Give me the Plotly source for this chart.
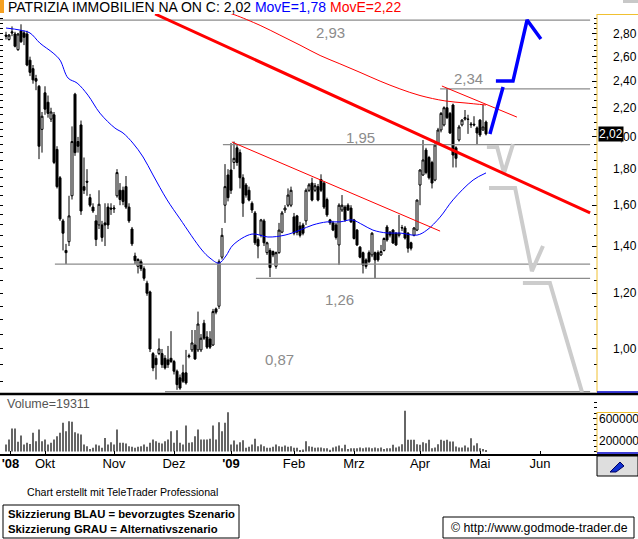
import math
import pandas as pd
import plotly.graph_objects as go

# ---------------- data ----------------
holidays = ["2008-12-24", "2008-12-25", "2008-12-26", "2008-12-31", "2009-01-01",
            "2009-04-10", "2009-04-13", "2009-05-01"]
trading_days = pd.bdate_range("2008-09-12", "2009-06-30", freq="C", holidays=holidays)

opens = [2.79, 2.75, 2.82, 2.80, 2.66, 2.83, 2.81, 2.80, 2.57, 2.50,
         2.42, 2.36, 2.05, 2.31, 2.24, 2.12, 2.15, 1.92, 1.75, 1.52,
         1.38, 1.42, 1.65, 2.30, 1.97, 2.08, 1.70, 1.73, 1.64, 1.59,
         1.52, 1.50, 1.50, 1.51, 1.59, 1.585, 1.58, 1.65, 1.68, 1.68,
         1.70, 1.59, 1.48, 1.355, 1.31, 1.33, 1.30, 1.24, 1.205, 0.985,
         0.97, 0.985, 0.985, 0.97, 0.965, 0.97, 0.96, 0.93, 0.91, 0.925,
         0.925, 0.975, 0.997, 1.013, 0.997, 0.997, 1.088, 1.04, 1.033, 1.013,
         1.14, 1.15, 1.35, 1.60, 1.766, 1.795, 1.84, 1.93, 1.90, 1.75,
         1.709, 1.68, 1.61, 1.56, 1.43, 1.45, 1.52, 1.37, 1.38, 1.375,
         1.31, 1.37, 1.465, 1.575, 1.60, 1.60, 1.54, 1.545, 1.495, 1.50,
         1.52, 1.68, 1.72, 1.68, 1.70, 1.74, 1.72, 1.63, 1.525, 1.51,
         1.50, 1.405, 1.575, 1.59, 1.60, 1.585, 1.525, 1.475, 1.395, 1.37,
         1.338, 1.37, 1.36, 1.37, 1.37, 1.36, 1.38, 1.49, 1.465, 1.475,
         1.46, 1.45, 1.485, 1.485, 1.46, 1.415, 1.45, 1.475, 1.709, 1.766,
         1.916, 1.87, 1.84, 1.737, 1.96, 2.046, 2.08, 2.20, 2.16, 2.22,
         1.93, 1.98, 2.08, 2.12, 2.12, 2.08, 2.085, 2.06, 2.113, 2.046,
         2.10]
highs = [2.82, 2.80, 2.87, 2.82, 2.81, 2.89, 2.83, 2.83, 2.60, 2.53,
         2.45, 2.37, 2.17, 2.36, 2.29, 2.20, 2.17, 1.94, 1.76, 1.53,
         1.41, 1.65, 2.07, 2.31, 2.00, 2.11, 1.87, 1.80, 1.66, 1.61,
         1.55, 1.68, 1.52, 1.61, 1.61, 1.61, 1.60, 1.80, 1.72, 1.70,
         1.76, 1.61, 1.49, 1.37, 1.345, 1.34, 1.31, 1.25, 1.21, 0.99,
         0.98, 1.035, 1.00, 0.98, 1.01, 1.06, 0.965, 0.935, 0.92, 0.95,
         0.997, 0.985, 1.064, 1.064, 1.13, 1.05, 1.10, 1.06, 1.06, 1.14,
         1.145, 1.34, 1.485, 1.83, 1.80, 1.96, 1.97, 1.95, 1.92, 1.77,
         1.72, 1.70, 1.62, 1.57, 1.44, 1.53, 1.53, 1.42, 1.39, 1.38,
         1.375, 1.51, 1.57, 1.60, 1.69, 1.70, 1.56, 1.55, 1.515, 1.51,
         1.69, 1.72, 1.75, 1.72, 1.715, 1.77, 1.73, 1.64, 1.53, 1.52,
         1.51, 1.61, 1.654, 1.60, 1.61, 1.60, 1.53, 1.48, 1.40, 1.375,
         1.345, 1.38, 1.465, 1.375, 1.38, 1.405, 1.44, 1.50, 1.47, 1.48,
         1.465, 1.55, 1.50, 1.495, 1.465, 1.42, 1.49, 1.63, 1.80, 1.98,
         1.93, 1.88, 1.85, 1.96, 2.06, 2.17, 2.21, 2.347, 2.17, 2.23,
         1.94, 2.08, 2.12, 2.184, 2.15, 2.10, 2.14, 2.07, 2.12, 2.22,
         2.11]
lows = [2.75, 2.74, 2.78, 2.68, 2.65, 2.72, 2.70, 2.52, 2.44, 2.38,
        2.33, 1.86, 1.90, 2.15, 2.13, 2.10, 1.83, 1.69, 1.52, 1.38,
        1.32, 1.40, 1.63, 1.88, 1.90, 1.55, 1.66, 1.65, 1.59, 1.56,
        1.40, 1.48, 1.42, 1.40, 1.48, 1.55, 1.56, 1.64, 1.60, 1.60,
        1.58, 1.51, 1.40, 1.32, 1.28, 1.29, 1.25, 1.19, 0.99, 0.93,
        0.905, 0.98, 0.94, 0.935, 0.94, 0.955, 0.92, 0.875, 0.875, 0.895,
        0.89, 0.97, 0.99, 0.965, 0.99, 0.99, 1.03, 1.00, 1.00, 1.01,
        1.12, 1.14, 1.34, 1.51, 1.62, 1.66, 1.80, 1.82, 1.69, 1.54,
        1.64, 1.62, 1.56, 1.405, 1.345, 1.44, 1.40, 1.36, 1.265, 1.35,
        1.30, 1.365, 1.46, 1.56, 1.59, 1.59, 1.45, 1.45, 1.44, 1.45,
        1.50, 1.67, 1.62, 1.67, 1.62, 1.67, 1.58, 1.54, 1.50, 1.47,
        1.43, 1.316, 1.565, 1.515, 1.57, 1.51, 1.43, 1.40, 1.345, 1.28,
        1.30, 1.325, 1.35, 1.26, 1.33, 1.355, 1.375, 1.42, 1.44, 1.41,
        1.40, 1.44, 1.47, 1.43, 1.37, 1.38, 1.445, 1.47, 1.60, 1.76,
        1.77, 1.74, 1.69, 1.73, 1.95, 2.03, 2.07, 2.12, 2.02, 1.81,
        1.81, 1.97, 2.07, 2.11, 2.02, 2.06, 2.07, 1.948, 2.00, 2.04,
        2.01]
closes = [2.78, 2.79, 2.81, 2.69, 2.80, 2.73, 2.77, 2.53, 2.47, 2.41,
          2.40, 1.94, 2.14, 2.19, 2.16, 2.17, 1.84, 1.70, 1.53, 1.46,
          1.37, 1.545, 1.97, 1.90, 1.94, 1.57, 1.68, 1.725, 1.60, 1.57,
          1.43, 1.605, 1.44, 1.50, 1.50, 1.58, 1.585, 1.78, 1.63, 1.62,
          1.59, 1.52, 1.41, 1.335, 1.34, 1.30, 1.26, 1.20, 1.00, 0.94,
          0.95, 1.00, 0.95, 0.94, 0.95, 0.96, 0.93, 0.89, 0.88, 0.90,
          0.895, 0.978, 1.02, 0.968, 1.085, 1.036, 1.036, 1.006, 1.006, 1.13,
          1.128, 1.33, 1.45, 1.70, 1.64, 1.68, 1.865, 1.84, 1.75, 1.61,
          1.654, 1.627, 1.575, 1.415, 1.40, 1.525, 1.415, 1.415, 1.305, 1.36,
          1.37, 1.475, 1.56, 1.585, 1.654, 1.68, 1.46, 1.465, 1.45, 1.46,
          1.68, 1.71, 1.627, 1.705, 1.627, 1.68, 1.59, 1.55, 1.51, 1.475,
          1.44, 1.60, 1.60, 1.525, 1.575, 1.515, 1.435, 1.405, 1.35, 1.316,
          1.31, 1.33, 1.46, 1.338, 1.338, 1.375, 1.435, 1.428, 1.451, 1.414,
          1.405, 1.46, 1.487, 1.437, 1.39, 1.39, 1.485, 1.627, 1.795, 1.855,
          1.78, 1.75, 1.72, 1.948, 2.046, 2.16, 2.20, 2.13, 2.026, 1.885,
          1.865, 2.066, 2.113, 2.13, 2.118, 2.085, 2.08, 2.026, 2.013, 2.066,
          2.02]
volumes = [127000, 218000, 418000, 418000, 176000, 291000, 127000, 158000, 139000, 339000,
           188000, 400000, 188000, 218000, 127000, 158000, 218000, 279000, 339000, 521000,
           370000, 552000, 539000, 352000, 327000, 309000, 127000, 97000, 48000, 67000,
           127000, 109000, 67000, 248000, 127000, 170000, 127000, 400000, 158000, 158000,
           145000, 97000, 85000, 67000, 85000, 97000, 127000, 85000, 158000, 218000,
           188000, 158000, 145000, 188000, 218000, 370000, 158000, 388000, 158000, 127000,
           473000, 158000, 170000, 279000, 400000, 218000, 218000, 218000, 230000, 473000,
           218000, 533000, 370000, 521000, 715000, 127000, 200000, 127000, 170000, 206000,
           67000, 85000, 127000, 230000, 97000, 127000, 97000, 67000, 67000, 85000,
           127000, 97000, 85000, 109000, 85000, 97000, 67000, 67000, 24000, 36000,
           188000, 97000, 85000, 67000, 73000, 73000, 61000, 61000, 30000, 73000,
           91000, 109000, 61000, 121000, 48000, 61000, 61000, 61000, 73000, 61000,
           73000, 73000, 61000, 73000, 61000, 73000, 48000, 61000, 61000, 121000,
           73000, 91000, 133000, 739000, 212000, 212000, 212000, 133000, 121000, 170000,
           152000, 212000, 61000, 73000, 133000, 212000, 194000, 212000, 182000, 182000,
           91000, 73000, 73000, 109000, 73000, 242000, 109000, 152000, 61000, 48000,
           19311]

# moving averages (trading-day index, value)
ma_blue_idx = [0, 4.7, 8, 11.3, 15.7, 18, 20.7, 23.7, 27.3, 31.3, 36.3, 39, 42.3, 45.7, 49,
               53.7, 58, 65.3, 68, 71, 73.3, 75.7, 82, 87.3, 93, 98, 102.3, 107, 111.3,
               115.3, 119, 122.3, 127, 131.3, 137, 140.3, 144.7, 149, 155.7, 160]
ma_blue_val = [2.855, 2.836, 2.809, 2.718, 2.631, 2.571, 2.424, 2.385, 2.293, 2.162, 2.059,
               2.026, 1.960, 1.873, 1.766, 1.628, 1.53, 1.382, 1.346, 1.324, 1.355, 1.405,
               1.456, 1.442, 1.451, 1.475, 1.500, 1.515, 1.515, 1.525, 1.500, 1.475, 1.461,
               1.461, 1.451, 1.475, 1.539, 1.628, 1.737, 1.778]
ma_red_idx = [74, 76.3, 84.7, 91.3, 98, 104.7, 111.3, 118, 124.7, 131.3, 138, 146.3, 153, 160]
ma_red_val = [3.00, 2.98, 2.88, 2.79, 2.70, 2.61, 2.54, 2.47, 2.40, 2.34, 2.29, 2.25, 2.235, 2.22]

# horizontal levels: (price, label, start index, end index)
level_prices = [2.93, 2.34, 1.95, 1.32, 1.26, 0.87]
level_labels = ["2,93", "2,34", "1,95", "", "1,26", "0,87"]
level_start = [-2, 144.7, 72.3, 16.3, 83.3, 53]
level_end = [194.7, 194.7, 194.7, 194.7, 194.7, 194.7]

# trend lines (x0, p0, x1, p1)
trend_thick = [49.7, 2.989, 194.7, 1.560]
trend_thin = [[75.3, 1.967, 144.7, 1.470], [145.3, 2.362, 170.3, 2.134]]

# scenario sketches
blue_paths = [([161.3, 165.7], [2.019, 2.354]),
              ([163.3, 169, 173.7, 178.3], [2.401, 2.401, 2.931, 2.754])]
gray_paths = [([160.3, 163.7, 166, 169], [1.935, 1.935, 1.777, 1.954]),
              ([161, 169.7, 175.3, 179], [1.693, 1.693, 1.290, 1.400]),
              ([172.3, 181.3, 192], [1.241, 1.241, 0.869])]

price_ticks = [1.0, 1.2, 1.4, 1.6, 1.8, 2.0, 2.2, 2.4, 2.6, 2.8]
price_minor = [round(0.85 + 0.05 * k, 2) for k in range(43)]
vol_ticks = [200000, 600000]

# ---------------- figure ----------------
n = len(closes)
xs = list(range(n))
FONT = "Liberation Sans Narrow, Arial Narrow, Liberation Sans, Arial, sans-serif"

PW, TOP, BOT = 597.0, 14.0, 454.0
PH = BOT - TOP


def xp(px):
    return px / PW


def yp(py):
    return (BOT - py) / PH


month_names = {(2008, 10): "Okt", (2008, 11): "Nov", (2008, 12): "Dez", (2009, 1): "<b>'09</b>",
               (2009, 2): "Feb", (2009, 3): "Mrz", (2009, 4): "Apr", (2009, 5): "Mai",
               (2009, 6): "Jun"}
tickvals, ticktext = [1.5], ["<b>'08</b>"]
seen = set()
for i, d in enumerate(trading_days):
    key = (d.year, d.month)
    if key in month_names and key not in seen:
        seen.add(key)
        tickvals.append(i)
        ticktext.append(month_names[key])

fig = go.Figure()

for p, x0, x1 in zip(level_prices, level_start, level_end):
    fig.add_trace(go.Scatter(x=[x0, x1], y=[p, p], mode="lines",
                             line=dict(color="#8c8c8c", width=1.3), hoverinfo="skip"))

fig.add_trace(go.Scatter(x=ma_blue_idx, y=ma_blue_val, mode="lines",
                         line=dict(color="#0000ff", width=1, shape="spline"), hoverinfo="skip"))
fig.add_trace(go.Scatter(x=ma_red_idx, y=ma_red_val, mode="lines",
                         line=dict(color="#ff0000", width=1, shape="spline"), hoverinfo="skip"))

fig.add_trace(go.Candlestick(x=xs, open=opens, high=highs, low=lows, close=closes,
                             increasing=dict(line=dict(color="black", width=1), fillcolor="white"),
                             decreasing=dict(line=dict(color="black", width=1), fillcolor="black"),
                             whiskerwidth=0, hoverinfo="skip"))

for gx, gy in gray_paths:
    fig.add_trace(go.Scatter(x=gx, y=gy, mode="lines",
                             line=dict(color="#cccccc", width=4), hoverinfo="skip"))

for t in trend_thin:
    fig.add_trace(go.Scatter(x=[t[0], t[2]], y=[t[1], t[3]], mode="lines",
                             line=dict(color="#ff0000", width=1), hoverinfo="skip"))
fig.add_trace(go.Scatter(x=[trend_thick[0], trend_thick[2]], y=[trend_thick[1], trend_thick[3]],
                         mode="lines", line=dict(color="#ff0000", width=3), hoverinfo="skip"))

for bx, by in blue_paths:
    fig.add_trace(go.Scatter(x=bx, y=by, mode="lines",
                             line=dict(color="#0000ff", width=3.5), hoverinfo="skip"))

fig.add_trace(go.Bar(x=xs, y=volumes, marker=dict(color="#666666", line=dict(width=0)),
                     width=0.4, xaxis="x2", yaxis="y2", hoverinfo="skip"))
fig.add_trace(go.Scatter(x=[None], y=[None], yaxis="y3", hoverinfo="skip"))

yr = [math.log10(0.866), math.log10(2.989)]
main_dom = [yp(393), 1]
vol_dom = [0, yp(397)]

fig.update_layout(
    width=638, height=539, margin=dict(l=0, r=41, t=14, b=85),
    paper_bgcolor="white", plot_bgcolor="white", showlegend=False, hovermode=False,
    boxgap=0.05,
    font=dict(family=FONT, color="black", size=12),
    xaxis=dict(domain=[0, 1], anchor="y", range=[-2, 197], showticklabels=False, ticks="",
               showgrid=False, zeroline=False, rangeslider=dict(visible=False), showline=False),
    xaxis2=dict(domain=[0, 1], anchor="y2", matches="x", range=[-2, 197], tickmode="array",
                tickvals=tickvals, ticktext=ticktext, ticks="inside", ticklen=3, tickcolor="black",
                showgrid=False, zeroline=False, showline=False,
                tickfont=dict(family=FONT, size=13, color="black")),
    yaxis=dict(domain=main_dom, anchor="x", type="log", range=yr, side="right",
               tickmode="array", tickvals=price_ticks,
               ticktext=[f"{v:.2f}".replace(".", ",") for v in price_ticks],
               ticks="inside", ticklen=5, tickcolor="black", showgrid=False, zeroline=False,
               showline=False, ticklabelstandoff=15,
               minor=dict(tickmode="array", tickvals=price_minor, ticks="inside", ticklen=3,
                          tickcolor="black", showgrid=False),
               tickfont=dict(family=FONT, size=12, color="black")),
    yaxis3=dict(overlaying="y", anchor="x", type="log", range=yr, side="left",
                tickmode="array", tickvals=price_minor, ticks="inside", ticklen=3,
                tickcolor="black", showticklabels=False, showgrid=False, zeroline=False,
                showline=False),
    yaxis2=dict(domain=vol_dom, anchor="x2", range=[-45000, 991000], side="right",
                tickmode="array", tickvals=vol_ticks, ticktext=[str(v) for v in vol_ticks],
                ticks="inside", ticklen=4, tickcolor="black", showgrid=False, zeroline=False,
                showline=False, ticklabelstandoff=1,
                minor=dict(tickmode="array", tickvals=[k * 100000 for k in range(10)],
                           ticks="inside", ticklen=3, tickcolor="black", showgrid=False),
                tickfont=dict(family=FONT, size=12, color="black")),
)

shapes = []
YEL, BLU = "#f0c030", "#0000c8"
# panel frames
shapes.append(dict(type="line", xref="paper", yref="paper", x0=xp(0), x1=xp(638),
                   y0=yp(394), y1=yp(394), line=dict(color="black", width=2.5)))
shapes.append(dict(type="line", xref="paper", yref="paper", x0=xp(0), x1=xp(638),
                   y0=yp(455), y1=yp(455), line=dict(color="black", width=2)))
shapes.append(dict(type="line", xref="paper", yref="paper", x0=xp(597), x1=xp(597),
                   y0=yp(14), y1=yp(392), line=dict(color=YEL, width=1)))
shapes.append(dict(type="line", xref="paper", yref="paper", x0=xp(597), x1=xp(638),
                   y0=yp(14.5), y1=yp(14.5), line=dict(color=YEL, width=1)))
shapes.append(dict(type="line", xref="paper", yref="paper", x0=xp(597), x1=xp(638),
                   y0=yp(392), y1=yp(392), line=dict(color=BLU, width=1.5)))
shapes.append(dict(type="line", xref="paper", yref="paper", x0=xp(597), x1=xp(597),
                   y0=yp(412), y1=yp(453), line=dict(color=YEL, width=1)))
shapes.append(dict(type="line", xref="paper", yref="paper", x0=xp(597), x1=xp(638),
                   y0=yp(412.5), y1=yp(412.5), line=dict(color=YEL, width=1)))
shapes.append(dict(type="line", xref="paper", yref="paper", x0=xp(597), x1=xp(638),
                   y0=yp(453), y1=yp(453), line=dict(color=BLU, width=1.5)))
# corner button
shapes.append(dict(type="rect", xref="paper", yref="paper", x0=xp(597), x1=xp(638),
                   y0=yp(476), y1=yp(456), fillcolor="#dedede",
                   line=dict(color="black", width=1)))
shapes.append(dict(type="path", xref="paper", yref="paper",
                   path=f"M {xp(610)} {yp(472)} L {xp(620)} {yp(462)} L {xp(624)} {yp(466)} "
                        f"L {xp(616)} {yp(472)} Z",
                   fillcolor="#1030d0", line=dict(color="#000060", width=1)))
shapes.append(dict(type="rect", xref="paper", yref="paper", x0=xp(623), x1=xp(638),
                   y0=yp(3), y1=yp(0), fillcolor="#c8c8c8", line=dict(width=0)))
# orange marker
shapes.append(dict(type="rect", xref="paper", yref="paper", x0=xp(0), x1=xp(4),
                   y0=yp(13), y1=yp(0), fillcolor="#f5a020", line=dict(width=0)))
# footer boxes
shapes.append(dict(type="rect", xref="paper", yref="paper", x0=xp(3), x1=xp(239),
                   y0=yp(538), y1=yp(505), line=dict(color="black", width=1)))
shapes.append(dict(type="rect", xref="paper", yref="paper", x0=xp(443), x1=xp(634),
                   y0=yp(538), y1=yp(517), line=dict(color="black", width=1)))
fig.update_layout(shapes=shapes)

ann = []
ann.append(dict(xref="paper", yref="paper", x=xp(6), y=yp(7), xanchor="left", yanchor="middle",
                showarrow=False, font=dict(family=FONT, size=14, color="black"),
                text="PATRIZIA IMMOBILIEN NA ON C: 2,02 "
                     "<span style='color:#0000ff'>MovE=1,78</span> "
                     "<span style='color:#ff0000'>MovE=2,22</span>"))
label_pos = {"2,93": (108.3, 2.818), "2,34": (154.3, 2.424), "1,95": (118.3, 1.999),
             "1,26": (111, 1.174), "0,87": (91.3, 0.965)}
for lab in level_labels:
    if lab:
        lx, ly = label_pos[lab]
        ann.append(dict(xref="x", yref="y", x=lx, y=math.log10(ly), showarrow=False,
                        text=lab, font=dict(family=FONT, size=15, color="#8c8c8c")))
ann.append(dict(xref="paper", yref="y", x=xp(598), y=math.log10(closes[-1]), xanchor="left",
                yanchor="middle", showarrow=False, text=f"{closes[-1]:.2f}".replace(".", ","),
                bgcolor="black", font=dict(family=FONT, size=12, color="white"), borderpad=0))
ann.append(dict(xref="paper", yref="paper", x=xp(5), y=yp(404), xanchor="left", yanchor="middle",
                showarrow=False, text=f"Volume={volumes[-1]}",
                font=dict(family=FONT, size=12.5, color="#555555")))
ann.append(dict(xref="paper", yref="paper", x=xp(25), y=yp(492), xanchor="left", yanchor="middle",
                showarrow=False, text="Chart erstellt mit TeleTrader Professional",
                font=dict(family=FONT, size=10.6, color="black")))
ann.append(dict(xref="paper", yref="paper", x=xp(6), y=yp(514), xanchor="left", yanchor="middle",
                showarrow=False, text="<b>Skizzierung BLAU = bevorzugtes Szenario</b>",
                font=dict(family=FONT, size=11.3, color="black")))
ann.append(dict(xref="paper", yref="paper", x=xp(6), y=yp(529), xanchor="left", yanchor="middle",
                showarrow=False, text="<b>Skizzierung GRAU = Alternativszenario</b>",
                font=dict(family=FONT, size=11.3, color="black")))
ann.append(dict(xref="paper", yref="paper", x=xp(449), y=yp(527.5), xanchor="left",
                yanchor="middle", showarrow=False, text="© http://www.godmode-trader.de",
                font=dict(family=FONT, size=12.3, color="black")))
fig.update_layout(annotations=ann)

fig.write_html("out.html")
